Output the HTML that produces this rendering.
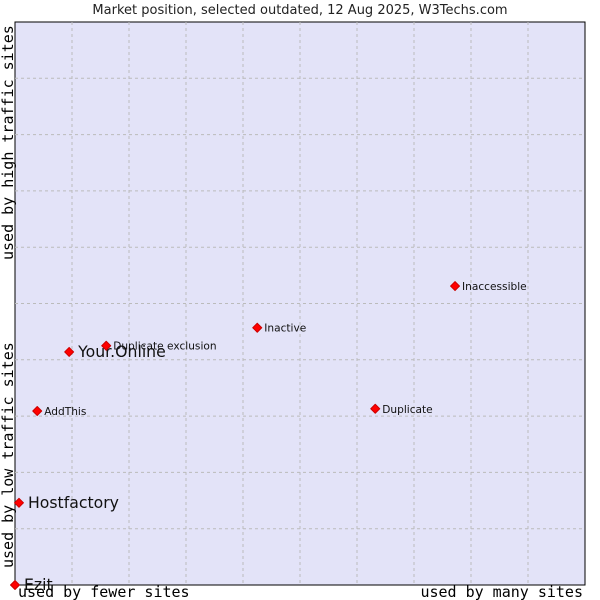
<!DOCTYPE html>
<html><head><meta charset="utf-8"><style>
body{margin:0;background:#fff;width:600px;height:600px;overflow:hidden}
svg{display:block;font-family:"DejaVu Sans","Liberation Sans",sans-serif}
</style></head><body>
<svg id="c" width="600" height="600">
<text x="300" y="14" text-anchor="middle" font-size="13" fill="#222">Market position, selected outdated, 12 Aug 2025, W3Techs.com</text>
<rect x="15" y="22" width="570" height="563" fill="#e3e3f8" stroke="#000" stroke-width="1"/>
<g id="grid"></g>
<g id="pts"></g>
<text x="18" y="597" font-family="DejaVu Sans Mono,Liberation Mono,monospace" font-size="15" fill="#000">used by fewer sites</text>
<text x="583" y="597" text-anchor="end" font-family="DejaVu Sans Mono,Liberation Mono,monospace" font-size="15" fill="#000">used by many sites</text>
<text transform="translate(13,568) rotate(-90)" font-family="DejaVu Sans Mono,Liberation Mono,monospace" font-size="15" fill="#000">used by low traffic sites</text>
<text transform="translate(13,260) rotate(-90)" font-family="DejaVu Sans Mono,Liberation Mono,monospace" font-size="15" fill="#000">used by high traffic sites</text>
</svg>
<script>
const names=["Ezit","Hostfactory","AddThis","Your.Online","Duplicate exclusion","Inactive","Duplicate","Inaccessible"];
const xVals=[0,0.07,0.39,0.95,1.6,4.25,6.32,7.72];
const yVals=[0,1.46,3.09,4.14,4.25,4.57,3.13,5.31];
const big=[true,true,false,true,false,false,false,false];
const NS="http://www.w3.org/2000/svg";
const X0=15,X1=585,Y0=585,Y1=22;
const sx=v=>X0+v/10*(X1-X0), sy=v=>Y0-v/10*(Y0-Y1);
const g=document.getElementById('grid');
for(let i=1;i<10;i++){
  let l=document.createElementNS(NS,'line');
  
  
  l.setAttribute('x1',sx(i));l.setAttribute('x2',sx(i));l.setAttribute('y1',Y1);l.setAttribute('y2',Y0);
  l.setAttribute('stroke','#bbb');l.setAttribute('stroke-dasharray','3,3');g.appendChild(l);
  let h=document.createElementNS(NS,'line');
  
  
  h.setAttribute('y1',sy(i));h.setAttribute('y2',sy(i));h.setAttribute('x1',X0);h.setAttribute('x2',X1);
  h.setAttribute('stroke','#bbb');h.setAttribute('stroke-dasharray','3,3');g.appendChild(h);
}
const p=document.getElementById('pts');
names.forEach((n,i)=>{
  const x=sx(xVals[i]),y=sy(yVals[i]);
  let c=document.createElementNS(NS,'path');
  
  
  c.setAttribute('d',`M${x} ${y-4.5}L${x+4.5} ${y}L${x} ${y+4.5}L${x-4.5} ${y}Z`);
  c.setAttribute('fill','#f00');c.setAttribute('stroke','#c00');c.setAttribute('stroke-linejoin','round');p.appendChild(c);
  let t=document.createElementNS(NS,'text');
  
  
  t.setAttribute('x',x+(big[i]?9:7));t.setAttribute('y',y+(big[i]?5:4));
  t.setAttribute('font-size',big[i]?15.7:10.6);t.setAttribute('fill','#111');
  t.textContent=n;p.appendChild(t);
});
</script>
</body></html>
